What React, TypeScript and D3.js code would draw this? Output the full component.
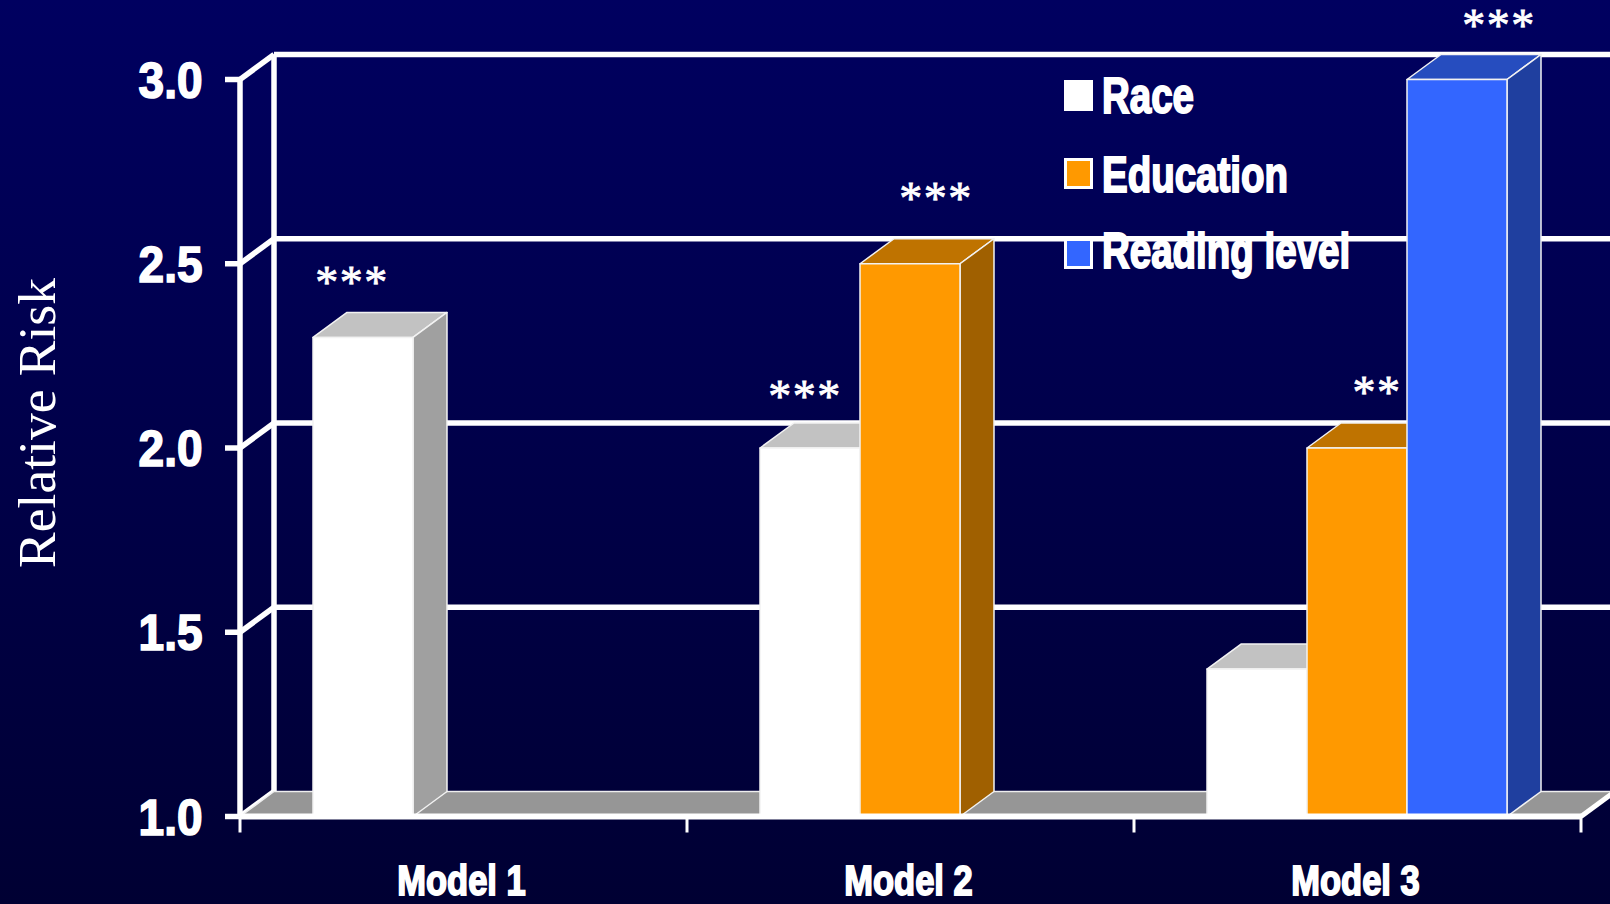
// App.tsx - relative risk 3D bar chart
import React from 'react';
import * as d3 from 'd3';

const models = ['Model 1', 'Model 2', 'Model 3'];
const seriesNames = ['Race', 'Education', 'Reading level'];
const yTicks = [1.0, 1.5, 2.0, 2.5, 3.0];

const raceValues = [2.3, 2.0, 1.4];
const educationValues = [null, 2.5, 2.0];
const readingValues = [null, null, 3.0];

const raceStars = ['***', '***', ''];
const educationStars = ['', '***', '**'];
const readingStars = ['', '', '***'];

const W = 1610;
const H = 904;
const depthX = 34;
const depthY = 25;

const faceColors = ['#ffffff', '#ff9900', '#3366ff'];
const topColors = ['#c2c2c2', '#bf7300', '#264dbf'];
const sideColors = ['#a0a0a0', '#a06000', '#1f3f9f'];

// star label nudges, per series
const starDx = [[-11, -5, 0], [0, 26, 20], [0, 0, 42]];
const starDy = [[-39, -36, 0], [0, -50, -40], [0, 0, -38.5]];

const boldFont = '"Liberation Sans", Arial, sans-serif';
const serifFont = '"Liberation Serif", "Times New Roman", serif';

const y = d3.scaleLinear().domain([1, 3]).range([816.5, 79.5]);
const x0 = d3.scaleBand<string>().domain(models).range([240, 1581]);
const x1 = d3.scaleBand<string>().domain(seriesNames).range([73, 373]);

const allValues = [raceValues, educationValues, readingValues];
const allStars = [raceStars, educationStars, readingStars];

const pts = (p: [number, number][]) => p.map((d) => d.join(',')).join(' ');

const Bar = ({ m, s }: { m: number; s: number }) => {
  const v = allValues[s][m];
  if (v === null) return null;
  const left = x0(models[m])! + x1(seriesNames[s])!;
  const w = x1.bandwidth();
  const top = y(v);
  const base = y(1);
  const right = left + w;
  return (
    <g stroke="#f2f2f2" strokeWidth={1.5} strokeLinejoin="round">
      <polygon
        points={pts([[left, top], [left + depthX, top - depthY], [right + depthX, top - depthY], [right, top]])}
        fill={topColors[s]}
      />
      <polygon
        points={pts([[right, top], [right + depthX, top - depthY], [right + depthX, base - depthY], [right, base]])}
        fill={sideColors[s]}
      />
      <rect x={left} y={top} width={w} height={base - top} fill={faceColors[s]} />
    </g>
  );
};

const StretchedText = ({ x, y: ty, size, sy, anchor, weight = 1, children }: any) => (
  <text
    transform={`translate(${x},${ty}) scale(1,${sy})`}
    fontFamily={boldFont}
    fontWeight="bold"
    fontSize={size}
    textAnchor={anchor}
    fill="#fff"
    stroke="#fff"
    strokeWidth={weight}
  >
    {children}
  </text>
);

export default function App() {
  const [xStart, xEnd] = x0.range();
  const legendY = [80, 158, 238];
  const legendBase = [113, 192, 268];
  return (
    <svg width={W} height={H} style={{ position: 'absolute', left: 0, top: 0, display: 'block' }}>
      <defs>
        <linearGradient id="bg" x1="0" y1="0" x2="0" y2="1">
          <stop offset="0" stopColor="#000060" />
          <stop offset="1" stopColor="#000033" />
        </linearGradient>
      </defs>
      <rect width={W} height={H} fill="url(#bg)" />

      {/* walls */}
      <g stroke="#fff" strokeWidth={5.5} fill="none">
        {yTicks.map((t) => (
          <g key={t}>
            {t > 1 && <line x1={xStart + depthX} x2={W} y1={y(t) - depthY} y2={y(t) - depthY} />}
            <line x1={xStart - 15} x2={xStart} y1={y(t)} y2={y(t)} />
            <line x1={xStart} x2={xStart + depthX} y1={y(t)} y2={y(t) - depthY} />
          </g>
        ))}
        <line x1={xStart} x2={xStart} y1={y(3)} y2={y(1)} />
        <line x1={xStart + depthX} x2={xStart + depthX} y1={y(3) - depthY} y2={y(1) - depthY} />
      </g>

      {/* floor */}
      <polygon
        points={pts([
          [xStart, y(1)],
          [xStart + depthX, y(1) - depthY],
          [xEnd + depthX, y(1) - depthY],
          [xEnd, y(1)],
        ])}
        fill="#969696"
        stroke="#eee"
        strokeWidth={1.5}
      />

      {/* legend */}
      {seriesNames.map((name, i) => (
        <g key={name}>
          <rect
            x={1065.5}
            y={legendY[i] + 1.5}
            width={26}
            height={28}
            fill={faceColors[i]}
            stroke="#fff"
            strokeWidth={3}
          />
          <StretchedText x={1102} y={legendBase[i]} size={38.5} sy={1.3} anchor="start" weight={1.5}>
            {name}
          </StretchedText>
        </g>
      ))}

      {/* bars */}
      {models.map((_, m) => (
        <g key={m}>{seriesNames.map((_, s) => <Bar key={s} m={m} s={s} />)}</g>
      ))}

      {/* front axis */}
      <g stroke="#fff" fill="none">
        <line x1={xStart} x2={xEnd} y1={y(1)} y2={y(1)} strokeWidth={6} />
        <line x1={xEnd} x2={xEnd + depthX} y1={y(1)} y2={y(1) - depthY} strokeWidth={5} />
        {d3.range(models.length + 1).map((i) => {
          const tx = xStart + i * x0.step();
          return <line key={i} x1={tx} x2={tx} y1={y(1)} y2={y(1) + 16} strokeWidth={3} />;
        })}
      </g>

      {/* tick labels */}
      {yTicks.map((t) => (
        <StretchedText key={t} x={202.5} y={y(t) + 18} size={46} sy={1.08} anchor="end" weight={1.5}>
          {d3.format('.1f')(t)}
        </StretchedText>
      ))}
      {models.map((name) => (
        <StretchedText
          key={name}
          x={x0(name)! + x0.bandwidth() / 2 - 2}
          y={895}
          size={34.5}
          sy={1.25}
          anchor="middle"
          weight={1.5}
        >
          {name}
        </StretchedText>
      ))}

      {/* significance stars */}
      {seriesNames.map((name, s) =>
        models.map((model, m) => {
          const v = allValues[s][m];
          if (v === null || !allStars[s][m]) return null;
          return (
            <text
              key={name + model}
              x={x0(model)! + x1(name)! + x1.bandwidth() / 2 + starDx[s][m]}
              y={y(v) + starDy[s][m]}
              fontFamily={serifFont}
              fontSize={46}
              letterSpacing={1.5}
              textAnchor="middle"
              fill="#fff"
              stroke="#fff"
              strokeWidth={0.8}
            >
              {allStars[s][m]}
            </text>
          );
        })
      )}

      <text
        transform="translate(55,423) rotate(-90)"
        fontFamily={serifFont}
        fontSize={53.5}
        textAnchor="middle"
        fill="#fff"
      >
        Relative Risk
      </text>
    </svg>
  );
}
